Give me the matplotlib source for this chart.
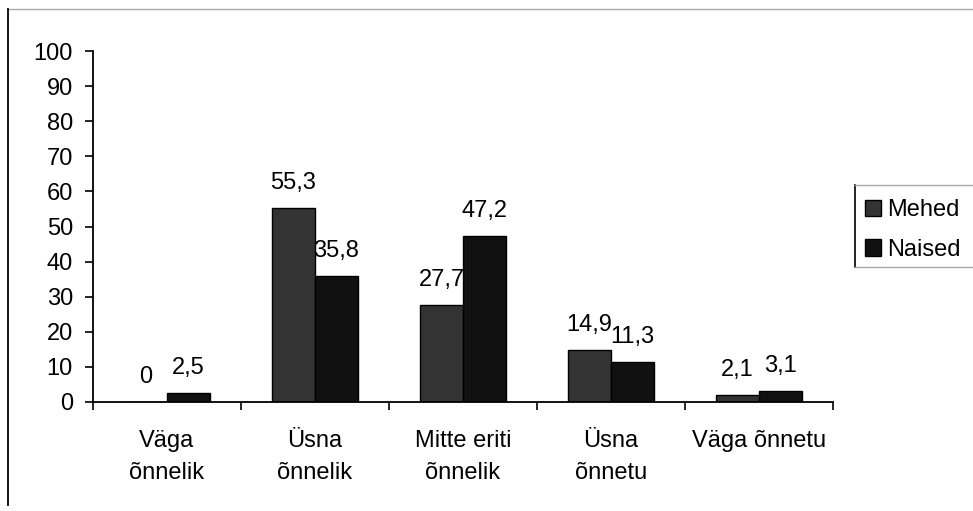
import matplotlib
matplotlib.use("Agg")
import matplotlib.pyplot as plt
from matplotlib.patches import Patch
from matplotlib.lines import Line2D
import numpy as np

categories = ["Väga\nõnnelik", "Üsna\nõnnelik", "Mitte eriti\nõnnelik", "Üsna\nõnnetu", "Väga õnnetu"]
series_names = ["Mehed", "Naised"]
mehed = [0, 55.3, 27.7, 14.9, 2.1]
naised = [2.5, 35.8, 47.2, 11.3, 3.1]
value_labels_mehed = ["0", "55,3", "27,7", "14,9", "2,1"]
value_labels_naised = ["2,5", "35,8", "47,2", "11,3", "3,1"]
yticks = [0, 10, 20, 30, 40, 50, 60, 70, 80, 90, 100]

plt.rcParams['font.family'] = ['Liberation Sans', 'DejaVu Sans']
FS = 17

W, H = 973, 511
fig = plt.figure(figsize=(W / 100, H / 100), dpi=100)
ax = fig.add_axes([93 / W, 1 - 402 / H, (833 - 93) / W, (402 - 51) / H])

x = np.arange(len(categories))
bw = 0.29
colors = ["#333333", "#111111"]
b1 = ax.bar(x - bw / 2, mehed, bw, color=colors[0], edgecolor="black", linewidth=1.0)
b2 = ax.bar(x + bw / 2, naised, bw, color=colors[1], edgecolor="black", linewidth=1.0)

for bars, labels in ((b1, value_labels_mehed), (b2, value_labels_naised)):
    for rect, lab in zip(bars, labels):
        ax.annotate(lab, (rect.get_x() + rect.get_width() / 2, rect.get_height()),
                    xytext=(0, 18), textcoords="offset points",
                    ha="center", va="center", fontsize=FS, color="black")

ax.set_xlim(-0.5, len(categories) - 0.5)
ax.set_ylim(0, 100)
ax.set_yticks(yticks)
ax.set_yticklabels([str(v) for v in yticks], fontsize=FS)
ax.tick_params(axis="y", direction="out", length=5.5, width=1.2, pad=9)

ax.set_xticks(np.arange(len(categories) + 1) - 0.5)
ax.set_xticklabels([])
ax.tick_params(axis="x", which="major", direction="out", length=5.5, width=1.2)
ax.set_xticks(x, minor=True)
ax.set_xticklabels(categories, minor=True, fontsize=FS, linespacing=1.62)
ax.tick_params(axis="x", which="minor", length=0, pad=20)

for s in ("top", "right"):
    ax.spines[s].set_visible(False)
for s in ("left", "bottom"):
    ax.spines[s].set_linewidth(1.3)
    ax.spines[s].set_color("black")

handles = [Patch(facecolor=colors[0], edgecolor="black", linewidth=1.0),
           Patch(facecolor=colors[1], edgecolor="black", linewidth=1.0)]
leg = fig.legend(handles, series_names, loc="upper left",
                 bbox_to_anchor=(865 / W, 1 - 199 / H), frameon=False,
                 fontsize=FS, handlelength=0.68, handleheight=0.68,
                 handletextpad=0.25, labelspacing=0.75, borderpad=0.0,
                 borderaxespad=0.0)

# legend frame: black left edge, gray top/bottom
fig.add_artist(Line2D([855 / W, 855 / W], [1 - 185 / H, 1 - 267 / H], color="black", lw=1.2))
fig.add_artist(Line2D([855 / W, 1.0], [1 - 185 / H, 1 - 185 / H], color="#aaaaaa", lw=1.0))
fig.add_artist(Line2D([855 / W, 1.0], [1 - 267 / H, 1 - 267 / H], color="#aaaaaa", lw=1.0))

# figure border lines
fig.add_artist(Line2D([8 / W, 1.0], [1 - 9 / H, 1 - 9 / H], color="#aaaaaa", lw=1.0))
fig.add_artist(Line2D([8 / W, 8 / W], [1 - 9 / H, 1 - 505 / H], color="black", lw=1.3))

fig.savefig("out.png", dpi=100)
